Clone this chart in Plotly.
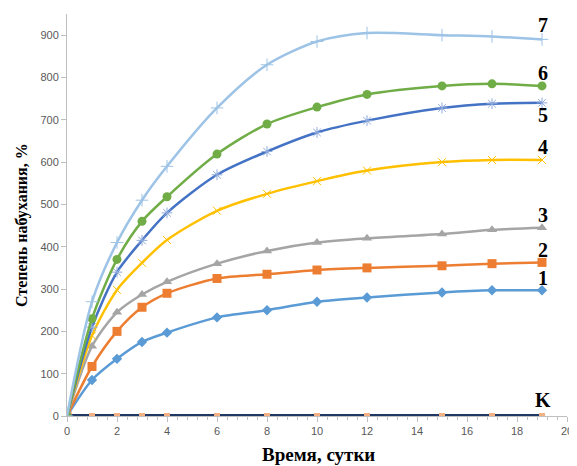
import plotly.graph_objects as go

days = [0, 1, 2, 3, 4, 6, 8, 10, 12, 15, 17, 19]
s1 = [0, 85, 135, 175, 197, 233, 250, 270, 280, 292, 297, 297]
s2 = [0, 117, 200, 257, 290, 325, 335, 345, 350, 355, 360, 363]
s3 = [0, 165, 245, 287, 317, 360, 390, 410, 420, 430, 440, 445]
s4 = [0, 190, 298, 362, 416, 485, 525, 555, 580, 600, 605, 605]
s5 = [0, 210, 340, 415, 480, 570, 625, 670, 698, 728, 738, 740]
s6 = [0, 230, 370, 460, 518, 619, 690, 730, 760, 780, 785, 780]
s7 = [0, 270, 410, 510, 590, 728, 830, 885, 905, 900, 897, 890]
sK = [0, 0, 0, 0, 0, 0, 0, 0, 0, 0, 0, 0]

series_names = ["1", "2", "3", "4", "5", "6", "7"]
label_y = [326, 392, 475, 635, 711, 810, 924]
label_k_y = 38

fig = go.Figure()

styles = [
    (s1, "#5B9BD5", dict(symbol="diamond", size=8)),
    (s2, "#ED7D31", dict(symbol="square", size=9)),
    (s3, "#A5A5A5", dict(symbol="triangle-up", size=9)),
    (s4, "#FFC000", dict(symbol="x-thin", size=8, line=dict(width=1, color="#FFC000"))),
    (s5, "#4472C4", dict(symbol="asterisk", size=9, line=dict(width=1, color="#8FAADC"))),
    (s6, "#70AD47", dict(symbol="circle", size=9)),
    (s7, "#9DC3E6", dict(symbol="cross-thin", size=9, line=dict(width=1, color="#9DC3E6"))),
]

# K line
fig.add_trace(go.Scatter(x=days, y=sK, mode="lines+markers",
                         line=dict(color="#1F3864", width=4),
                         marker=dict(symbol="square", size=6, color="#F4B183"),
                         showlegend=False))

for (ys, col, mk) in styles:
    m = dict(color=col)
    m.update(mk)
    fig.add_trace(go.Scatter(x=days, y=ys, mode="lines+markers",
                             line=dict(color=col, width=2.5, shape="spline", smoothing=0.8),
                             marker=m, showlegend=False))

lab_font = dict(family="Liberation Serif", size=20, color="black")
for name, ly in zip(series_names, label_y):
    fig.add_annotation(x=19.04, y=ly, text="<b>%s</b>" % name, showarrow=False, font=lab_font)
fig.add_annotation(x=19.04, y=label_k_y, text="<b>K</b>", showarrow=False, font=lab_font)

# axis titles as annotations for precise placement
fig.add_annotation(xref="paper", yref="paper", x=-0.09, y=0.475, textangle=-90,
                   xanchor="center", yanchor="middle",
                   text="<b>Степень набухания, %</b>", showarrow=False,
                   font=dict(family="Liberation Serif", size=16, color="black"))
fig.add_annotation(xref="paper", yref="paper", x=0.502, y=-0.097,
                   xanchor="center", yanchor="middle",
                   text="<b>Время, сутки</b>", showarrow=False,
                   font=dict(family="Liberation Serif", size=19, color="black"))

fig.update_layout(
    width=569, height=458,
    margin=dict(l=59, r=10, t=6, b=50, autoexpand=False),
    plot_bgcolor="white", paper_bgcolor="white",
    font=dict(family="Liberation Sans", size=11, color="#595959"),
    xaxis=dict(range=[0, 20], dtick=2, tick0=0, showgrid=False, zeroline=False,
               showline=True, linecolor="#BFBFBF", linewidth=1, automargin=False,
               ticks="outside", ticklen=5, tickcolor="#BFBFBF",
               minor=dict(dtick=0.4, ticks="outside", ticklen=3, tickcolor="#BFBFBF")),
    yaxis=dict(range=[0, 950], dtick=100, tick0=0, showgrid=False, zeroline=False,
               showline=True, linecolor="#BFBFBF", linewidth=1, automargin=False,
               ticks="outside", ticklen=5, tickcolor="#BFBFBF"),
)

fig.write_html("out.html")
